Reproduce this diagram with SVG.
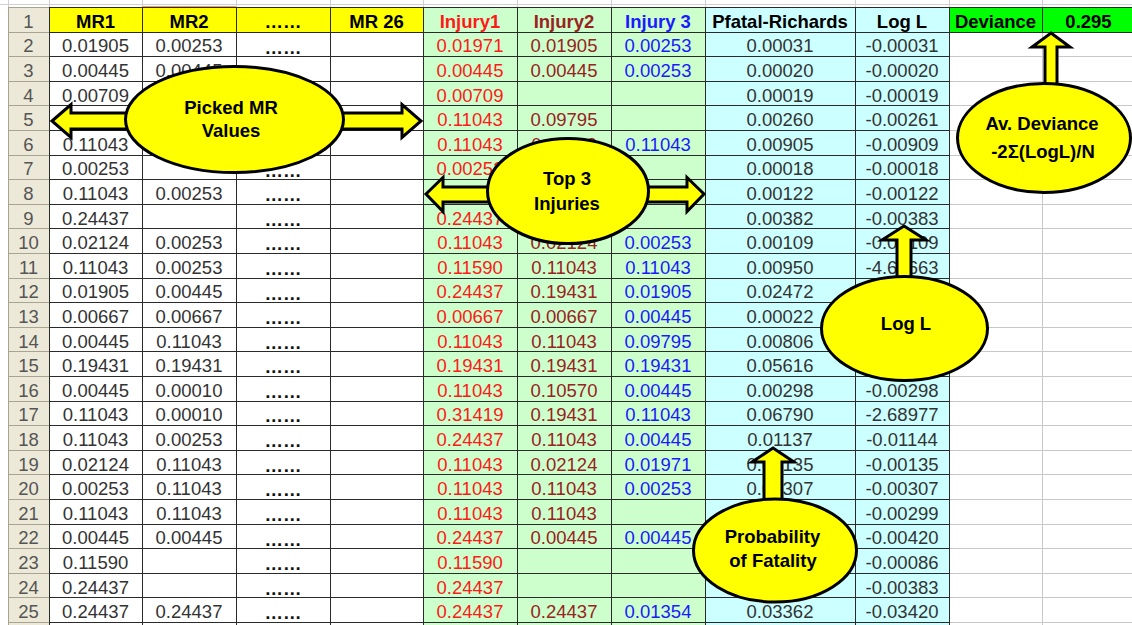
<svg xmlns="http://www.w3.org/2000/svg" width="1132" height="625" viewBox="0 0 1132 625">
<style>
.n{font-family:'Liberation Sans',Arial,sans-serif;font-size:18.5px;text-anchor:middle}
.b{font-weight:bold}
.d{font-weight:bold;fill:#111}
.mr{fill:#333}
.rh{fill:#555}
.i1{fill:#ff1a1a}
.i2{fill:#992222}
.i3{fill:#1a1aff}
.pf{fill:#333}
.co{fill:#ffff00;stroke:#000;stroke-width:3;stroke-linejoin:miter}
.ct{font-family:'Liberation Sans',Arial,sans-serif;font-size:18.5px;font-weight:bold;text-anchor:middle;fill:#000}
</style>
<rect width="1132" height="625" fill="#fff"/>
<g id="sheet">
<rect x="8" y="7.5" width="41" height="618" fill="#ECE9D8"/>
<rect x="49" y="7.5" width="374" height="25" fill="#ffff00"/>
<rect x="423" y="7.5" width="282" height="618" fill="#ccffcc"/>
<rect x="705" y="7.5" width="244" height="618" fill="#ccffff"/>
<rect x="949" y="7.5" width="183" height="25" fill="#00ff00"/>
<path d="M0 4.5H1132 M8.5 0V8 M49.5 0V8 M142.5 0V8 M236.5 0V8 M330.5 0V8 M423.5 0V8 M517.5 0V8 M611.5 0V8 M705.5 0V8 M855.5 0V8 M949.5 0V8 M1042.5 0V8" stroke="#d0d0d0" stroke-width="1" fill="none"/>
<line x1="142" y1="7" x2="236" y2="7" stroke="#f0a040" stroke-width="2"/>
<path d="M949 56.5H1132M949 81.5H1132M949 105.5H1132M949 130.5H1132M949 155.5H1132M949 179.5H1132M949 204.5H1132M949 228.5H1132M949 253.5H1132M949 278.5H1132M949 302.5H1132M949 327.5H1132M949 351.5H1132M949 376.5H1132M949 401.5H1132M949 425.5H1132M949 450.5H1132M949 474.5H1132M949 499.5H1132M949 524.5H1132M949 548.5H1132M949 573.5H1132M949 597.5H1132M949 622.5H1132M1042.5 32V625" stroke="#c8c8c8" stroke-width="1" fill="none"/>
<path d="M8 7.5H49M8 32.5H49M8 56.5H49M8 81.5H49M8 105.5H49M8 130.5H49M8 155.5H49M8 179.5H49M8 204.5H49M8 228.5H49M8 253.5H49M8 278.5H49M8 302.5H49M8 327.5H49M8 351.5H49M8 376.5H49M8 401.5H49M8 425.5H49M8 450.5H49M8 474.5H49M8 499.5H49M8 524.5H49M8 548.5H49M8 573.5H49M8 597.5H49M8 622.5H49M8.5 7V625" stroke="#a8a494" stroke-width="1" fill="none"/>
<path d="M49 7.5H1132M49 32.5H1132M49 56.5H949M49 81.5H949M49 105.5H949M49 130.5H949M49 155.5H949M49 179.5H949M49 204.5H949M49 228.5H949M49 253.5H949M49 278.5H949M49 302.5H949M49 327.5H949M49 351.5H949M49 376.5H949M49 401.5H949M49 425.5H949M49 450.5H949M49 474.5H949M49 499.5H949M49 524.5H949M49 548.5H949M49 573.5H949M49 597.5H949M49 622.5H949" stroke="#2a2a2a" stroke-width="1" fill="none"/>
<path d="M49.5 7V625M142.5 7V625M236.5 7V625M330.5 7V625M423.5 7V625M517.5 7V625M611.5 7V625M705.5 7V625M855.5 7V625M949.5 7V625M1042.5 7V32" stroke="#2a2a2a" stroke-width="1" fill="none"/>
<g class="n rh">
<text x="28.5" y="27.8">1</text><text x="28.5" y="52.4">2</text><text x="28.5" y="77">3</text><text x="28.5" y="101.6">4</text><text x="28.5" y="126.2">5</text><text x="28.5" y="150.8">6</text><text x="28.5" y="175.4">7</text><text x="28.5" y="200">8</text><text x="28.5" y="224.6">9</text><text x="28.5" y="249.2">10</text><text x="28.5" y="273.8">11</text><text x="28.5" y="298.4">12</text><text x="28.5" y="323">13</text><text x="28.5" y="347.6">14</text><text x="28.5" y="372.2">15</text><text x="28.5" y="396.8">16</text><text x="28.5" y="421.4">17</text><text x="28.5" y="446">18</text><text x="28.5" y="470.6">19</text><text x="28.5" y="495.2">20</text><text x="28.5" y="519.8">21</text><text x="28.5" y="544.4">22</text><text x="28.5" y="569">23</text><text x="28.5" y="593.6">24</text><text x="28.5" y="618.2">25</text>
</g>
<g class="n b">
<text x="95.5" y="27.8" fill="#000">MR1</text>
<text x="189" y="27.8" fill="#000">MR2</text>
<text x="283" y="27.8" fill="#000">……</text>
<text x="376.5" y="27.8" fill="#000">MR 26</text>
<text x="470" y="27.8" class="i1">Injury1</text>
<text x="564" y="27.8" class="i2">Injury2</text>
<text x="658" y="27.8" class="i3">Injury 3</text>
<text x="780" y="27.8" fill="#000">Pfatal-Richards</text>
<text x="902" y="27.8" fill="#000">Log L</text>
<text x="995.5" y="27.8" fill="#000">Deviance</text>
<text x="1088.5" y="27.8" fill="#000">0.295</text>
</g>
<g class="n mr">
<text x="95.5" y="52.4">0.01905</text><text x="189" y="52.4">0.00253</text>
<text x="95.5" y="77">0.00445</text><text x="189" y="77">0.00445</text>
<text x="95.5" y="101.6">0.00709</text>
<text x="95.5" y="124.5">0.00709</text>
<text x="95.5" y="150.8">0.11043</text>
<text x="95.5" y="175.4">0.00253</text>
<text x="95.5" y="200">0.11043</text><text x="189" y="200">0.00253</text>
<text x="95.5" y="224.6">0.24437</text>
<text x="95.5" y="249.2">0.02124</text><text x="189" y="249.2">0.00253</text>
<text x="95.5" y="273.8">0.11043</text><text x="189" y="273.8">0.00253</text>
<text x="95.5" y="298.4">0.01905</text><text x="189" y="298.4">0.00445</text>
<text x="95.5" y="323">0.00667</text><text x="189" y="323">0.00667</text>
<text x="95.5" y="347.6">0.00445</text><text x="189" y="347.6">0.11043</text>
<text x="95.5" y="372.2">0.19431</text><text x="189" y="372.2">0.19431</text>
<text x="95.5" y="396.8">0.00445</text><text x="189" y="396.8">0.00010</text>
<text x="95.5" y="421.4">0.11043</text><text x="189" y="421.4">0.00010</text>
<text x="95.5" y="446">0.11043</text><text x="189" y="446">0.00253</text>
<text x="95.5" y="470.6">0.02124</text><text x="189" y="470.6">0.11043</text>
<text x="95.5" y="495.2">0.00253</text><text x="189" y="495.2">0.11043</text>
<text x="95.5" y="519.8">0.11043</text><text x="189" y="519.8">0.11043</text>
<text x="95.5" y="544.4">0.00445</text><text x="189" y="544.4">0.00445</text>
<text x="95.5" y="569">0.11590</text>
<text x="95.5" y="593.6">0.24437</text>
<text x="95.5" y="618.2">0.24437</text><text x="189" y="618.2">0.24437</text>
</g>
<g class="n d">
<text x="283" y="53.5">……</text><text x="283" y="176.5">……</text><text x="283" y="201">……</text><text x="283" y="225.5">……</text><text x="283" y="250">……</text><text x="283" y="274.5">……</text><text x="283" y="299.5">……</text><text x="283" y="324">……</text><text x="283" y="348.5">……</text><text x="283" y="373">……</text><text x="283" y="397.5">……</text><text x="283" y="422">……</text><text x="283" y="447">……</text><text x="283" y="471.5">……</text><text x="283" y="496">……</text><text x="283" y="520.5">……</text><text x="283" y="545.5">……</text><text x="283" y="570">……</text><text x="283" y="594.5">……</text><text x="283" y="619">……</text>
</g>
<g class="n i1">
<text x="470" y="52.4">0.01971</text><text x="470" y="77">0.00445</text><text x="470" y="101.6">0.00709</text><text x="470" y="126.2">0.11043</text><text x="470" y="150.8">0.11043</text><text x="470" y="175.4">0.00253</text><text x="470" y="200">0.11043</text><text x="470" y="224.6">0.24437</text><text x="470" y="249.2">0.11043</text><text x="470" y="273.8">0.11590</text><text x="470" y="298.4">0.24437</text><text x="470" y="323">0.00667</text><text x="470" y="347.6">0.11043</text><text x="470" y="372.2">0.19431</text><text x="470" y="396.8">0.11043</text><text x="470" y="421.4">0.31419</text><text x="470" y="446">0.24437</text><text x="470" y="470.6">0.11043</text><text x="470" y="495.2">0.11043</text><text x="470" y="519.8">0.11043</text><text x="470" y="544.4">0.24437</text><text x="470" y="569">0.11590</text><text x="470" y="593.6">0.24437</text><text x="470" y="618.2">0.24437</text>
</g>
<g class="n i2">
<text x="564" y="52.4">0.01905</text><text x="564" y="77">0.00445</text><text x="564" y="126.2">0.09795</text><text x="564" y="150.8">0.11043</text><text x="564" y="249.2">0.02124</text><text x="564" y="273.8">0.11043</text><text x="564" y="298.4">0.19431</text><text x="564" y="323">0.00667</text><text x="564" y="347.6">0.11043</text><text x="564" y="372.2">0.19431</text><text x="564" y="396.8">0.10570</text><text x="564" y="421.4">0.19431</text><text x="564" y="446">0.11043</text><text x="564" y="470.6">0.02124</text><text x="564" y="495.2">0.11043</text><text x="564" y="519.8">0.11043</text><text x="564" y="544.4">0.00445</text><text x="564" y="618.2">0.24437</text>
</g>
<g class="n i3">
<text x="658" y="52.4">0.00253</text><text x="658" y="77">0.00253</text><text x="658" y="150.8">0.11043</text><text x="658" y="200">0.00253</text><text x="658" y="249.2">0.00253</text><text x="658" y="273.8">0.11043</text><text x="658" y="298.4">0.01905</text><text x="658" y="323">0.00445</text><text x="658" y="347.6">0.09795</text><text x="658" y="372.2">0.19431</text><text x="658" y="396.8">0.00445</text><text x="658" y="421.4">0.11043</text><text x="658" y="446">0.00445</text><text x="658" y="470.6">0.01971</text><text x="658" y="495.2">0.00253</text><text x="658" y="544.4">0.00445</text><text x="658" y="618.2">0.01354</text>
</g>
<g class="n pf">
<text x="780" y="52.4">0.00031</text><text x="780" y="77">0.00020</text><text x="780" y="101.6">0.00019</text><text x="780" y="126.2">0.00260</text><text x="780" y="150.8">0.00905</text><text x="780" y="175.4">0.00018</text><text x="780" y="200">0.00122</text><text x="780" y="224.6">0.00382</text><text x="780" y="249.2">0.00109</text><text x="780" y="273.8">0.00950</text><text x="780" y="298.4">0.02472</text><text x="780" y="323">0.00022</text><text x="780" y="347.6">0.00806</text><text x="780" y="372.2">0.05616</text><text x="780" y="396.8">0.00298</text><text x="780" y="421.4">0.06790</text><text x="780" y="446">0.01137</text><text x="780" y="470.6">0.00135</text><text x="780" y="495.2">0.00307</text><text x="780" y="618.2">0.03362</text>
<text x="902" y="52.4">-0.00031</text><text x="902" y="77">-0.00020</text><text x="902" y="101.6">-0.00019</text><text x="902" y="126.2">-0.00261</text><text x="902" y="150.8">-0.00909</text><text x="902" y="175.4">-0.00018</text><text x="902" y="200">-0.00122</text><text x="902" y="224.6">-0.00383</text><text x="902" y="249.2">-0.00109</text><text x="902" y="273.8">-4.65663</text><text x="902" y="396.8">-0.00298</text><text x="902" y="421.4">-2.68977</text><text x="902" y="446">-0.01144</text><text x="902" y="470.6">-0.00135</text><text x="902" y="495.2">-0.00307</text><text x="902" y="519.8">-0.00299</text><text x="902" y="544.4">-0.00420</text><text x="902" y="569">-0.00086</text><text x="902" y="593.6">-0.00383</text><text x="902" y="618.2">-0.03420</text>
</g>
</g>
<g id="connectors">
<polygon class="co" points="52,121 71,104.5 71,113 402,113 402,104.5 421,121 402,137.5 402,129 71,129 71,137.5"/>
<polygon class="co" points="426,194 443,177.5 443,187 687,187 687,177.5 704,194 687,211.5 687,202 443,202 443,211.5"/>
<polygon class="co" points="1051,33 1070,47 1057,47 1057,95 1045,95 1045,47 1032,47"/>
<polygon class="co" points="904,226 926,240 911,240 911,285 897,285 897,240 882,240"/>
<polygon class="co" points="773,448 794,462 782,462 782,505 764,505 764,462 752,462"/>
</g>
<g id="node-picked-mr">
<ellipse class="co" cx="234.5" cy="119.5" rx="109" ry="53"/>
<text class="ct" x="231" y="113.5">Picked MR</text>
<text class="ct" x="231" y="136.5">Values</text>
</g>
<g id="node-top3">
<ellipse class="co" cx="568" cy="191" rx="80.5" ry="52.5"/>
<text class="ct" x="567" y="185">Top 3</text>
<text class="ct" x="567" y="209.5">Injuries</text>
</g>
<g id="node-deviance">
<ellipse class="co" cx="1044" cy="138" rx="86.5" ry="54.5"/>
<text class="ct" x="1042" y="130">Av. Deviance</text>
<text class="ct" x="1043" y="158">-2Σ(LogL)/N</text>
</g>
<g id="node-logl">
<ellipse class="co" cx="904.5" cy="328.5" rx="83" ry="52"/>
<text class="ct" x="906" y="329.5">Log L</text>
</g>
<g id="node-prob">
<ellipse class="co" cx="775" cy="550.5" rx="81.5" ry="51.5"/>
<text class="ct" x="772.5" y="543">Probability</text>
<text class="ct" x="773" y="566.5">of Fatality</text>
</g>
</svg>
